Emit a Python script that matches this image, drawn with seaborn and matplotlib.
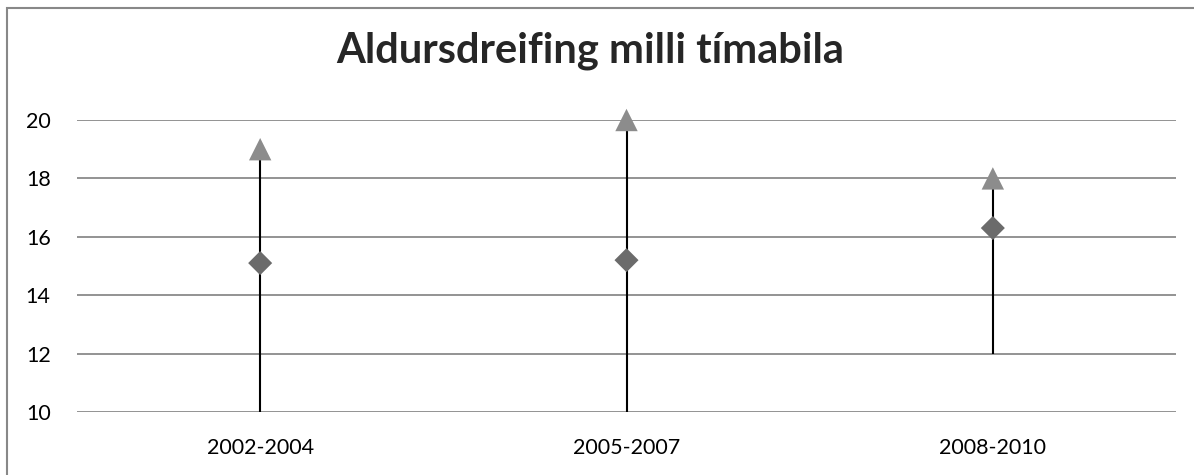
import matplotlib
matplotlib.use("Agg")
import matplotlib.pyplot as plt
import seaborn as sns
import pandas as pd
from matplotlib.patches import Rectangle

# data
periods = ["2002-2004", "2005-2007", "2008-2010"]
low_vals = [10, 10, 12]
high_vals = [19, 20, 18]
mean_vals = [15.1, 15.2, 16.3]

df = pd.DataFrame({"period": periods, "low": low_vals, "high": high_vals, "mean": mean_vals})

sns.set_style("white")
plt.rcParams["font.family"] = ["Lato", "DejaVu Sans"]

fig = plt.figure(figsize=(11.94, 4.75), dpi=100)
ax = fig.add_axes([77 / 1194, 63 / 475, 1099 / 1194, 292 / 475])

# outer chart border
fig.patches.append(Rectangle((7 / 1194, -0.1), 1.2, (475 - 8) / 475 + 0.1,
                             transform=fig.transFigure, fill=False,
                             edgecolor="#888888", linewidth=1.5))

# high-low lines
ax.vlines(range(len(df)), df["low"], df["high"], color="black", linewidth=1.5, zorder=2)

sns.scatterplot(data=df, x="period", y="high", marker="^", s=260, color="#8c8c8c",
                edgecolor="none", ax=ax, zorder=3, clip_on=False)
sns.scatterplot(data=df, x="period", y="mean", marker="D", s=150, color="#6b6b6b",
                edgecolor="none", ax=ax, zorder=3, clip_on=False)

ax.set_xlim(-0.5, len(df) - 0.5)
ax.set_ylim(10, 20)
ax.set_yticks([10, 12, 14, 16, 18, 20])
ax.yaxis.grid(True, color="#8a8a8a", linewidth=1.3)
ax.set_axisbelow(True)
for s in ax.spines.values():
    s.set_visible(False)
ax.tick_params(axis="both", length=0, labelsize=15.5, colors="black")
ax.tick_params(axis="y", pad=19)
ax.tick_params(axis="x", pad=19)
ax.set_xlabel("")
ax.set_ylabel("")

fig.text(0.494, 0.893, "Aldursdreifing milli tímabila", ha="center", va="center",
         fontsize=30, fontweight="bold")

fig.savefig("out.png", dpi=100)
